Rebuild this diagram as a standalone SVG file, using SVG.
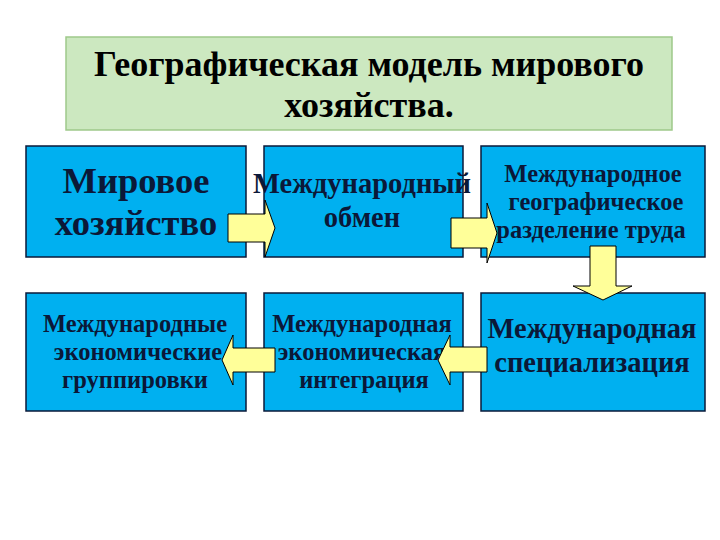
<svg xmlns="http://www.w3.org/2000/svg" width="720" height="540" viewBox="0 0 720 540">
<style>
.box{fill:#00b0f0;stroke:#0a1a3a;stroke-width:1.5}
.t{font-family:"Liberation Serif","DejaVu Serif",serif;font-weight:bold;fill:#0b1838;text-anchor:middle}
.arr{fill:#ffff99;stroke:#000;stroke-width:1}
</style>
<rect width="720" height="540" fill="#ffffff"/>
<g id="title">
<rect x="66" y="37" width="606" height="93" fill="#cce8c0" stroke="#9ec98a" stroke-width="1.5"/>
<text class="t" x="369" y="76" font-size="36" style="fill:#000">Географическая модель мирового</text>
<text class="t" x="369" y="117" font-size="36" style="fill:#000">хозяйства.</text>
</g>
<g id="n1">
<rect class="box" x="26" y="146" width="220" height="111"/>
<text class="t" x="136" y="193" font-size="36.5">Мировое</text>
<text class="t" x="136" y="235" font-size="36.5">хозяйство</text>
</g>
<g id="n2">
<rect class="box" x="264" y="146" width="199" height="111"/>
<text class="t" x="362" y="193" font-size="28.5">Международный</text>
<text class="t" x="362" y="227" font-size="28.5">обмен</text>
</g>
<g id="n3">
<rect class="box" x="481" y="146" width="224" height="111"/>
<text class="t" x="593" y="182" font-size="24.5">Международное</text>
<text class="t" x="596" y="210" font-size="24.5">географическое</text>
<text class="t" x="591" y="238" font-size="24.5">разделение труда</text>
</g>
<g id="n4">
<rect class="box" x="26" y="293" width="220" height="118"/>
<text class="t" x="135" y="332" font-size="24.5">Международные</text>
<text class="t" x="138" y="360" font-size="24.5">экономические</text>
<text class="t" x="135" y="388" font-size="24.5">группировки</text>
</g>
<g id="n5">
<rect class="box" x="264" y="293" width="199" height="118"/>
<text class="t" x="362" y="332" font-size="24.5">Международная</text>
<text class="t" x="362" y="360" font-size="24.5">экономическая</text>
<text class="t" x="364" y="388" font-size="24.5">интеграция</text>
</g>
<g id="n6">
<rect class="box" x="481" y="293" width="224" height="118"/>
<text class="t" x="592" y="338" font-size="28.5">Международная</text>
<text class="t" x="592" y="372" font-size="28.5">специализация</text>
</g>
<g id="connectors">
<polygon class="arr" points="228,214 265,214 265,200 275,228 265,257 265,242 228,242"/>
<polygon class="arr" points="451,218 487,218 487,203 497,233 487,263 487,248 451,248"/>
<polygon class="arr" points="590,246 616,246 616,286 632,286 603,300 573,286 590,286"/>
<polygon class="arr" points="487,347 450,347 450,335 438,360 450,385 450,372 487,372"/>
<polygon class="arr" points="275,348 233,348 233,335 222,360 233,385 233,372 275,372"/>
</g>
</svg>
